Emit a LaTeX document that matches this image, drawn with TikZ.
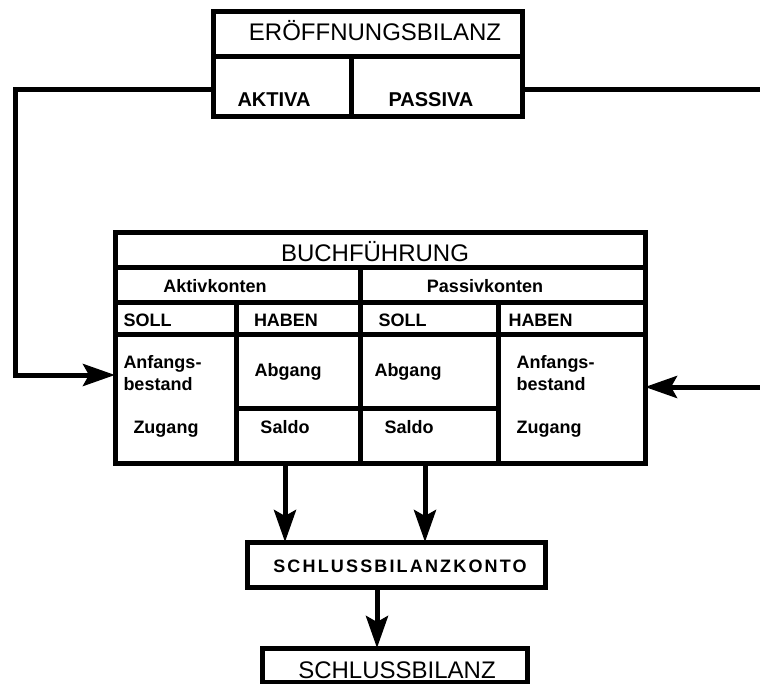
\documentclass[tikz,border=0pt]{standalone}
\usepackage{fontspec}
\setmainfont{Liberation Sans}
\usetikzlibrary{arrows.meta}
\begin{document}
\begin{tikzpicture}[x=1pt,y=-1pt,line width=5pt,
  box/.style={draw,line width=5pt,inner sep=0pt,outer sep=0pt},
  title/.style={font=\fontsize{24}{24}\selectfont,inner sep=0pt,anchor=base},
  lbl/.style={font=\bfseries\fontsize{18}{18}\selectfont,inner sep=0pt,anchor=base west},
  lblc/.style={lbl,anchor=base},
  arr/.style={-{Stealth[length=32pt,width=22pt,inset=6pt]},line width=5pt}]
\useasboundingbox (0,0) rectangle (760,684);
% boxes
\node[box,minimum width=309pt,minimum height=105pt] (eb) at (367.5,64.5) {};
\node[box,minimum width=530pt,minimum height=230pt] (bf) at (380,348) {};
\node[box,minimum width=298pt,minimum height=45pt] (sbk) at (396,564.5) {};
\node[box,minimum width=265pt,minimum height=34pt] (sb) at (394.5,665) {};
% dividers Eroeffnungsbilanz
\draw (213,57) -- (522,57);
\draw (351,57) -- (351,117);
% dividers Buchfuehrung
\draw (115,268) -- (645,268);
\draw (115,303) -- (645,303);
\draw (115,335) -- (645,335);
\draw (360,268) -- (360,463);
\draw (236,303) -- (236,463);
\draw (498,303) -- (498,463);
\draw (236,408) -- (498,408);
% texts
\node[title] (tEB) at (375,40.5) {ERÖFFNUNGSBILANZ};
\node[lblc,font=\bfseries\fontsize{20}{20}\selectfont] (tAK) at (274,107) {AKTIVA};
\node[lblc,font=\bfseries\fontsize{20}{20}\selectfont] (tPA) at (431,107) {PASSIVA};
\node[title] (tBF) at (375,262) {BUCHFÜHRUNG};
\node[lblc] (tAKK) at (215,293) {Aktivkonten};
\node[lblc] (tPAK) at (485,293) {Passivkonten};
\node[lbl] (s1) at (121,327) {SOLL};
\node[lblc] (h1) at (286,327) {HABEN};
\node[lbl] (s2) at (376,327) {SOLL};
\node[lbl] (h2) at (506,327) {HABEN};
\node[lbl] (a1) at (121,368) {Anfangs-};
\node[lbl] (b1) at (121,390) {bestand};
\node[lbl] (z1) at (131,433) {Zugang};
\node[lblc] (ab1) at (288,377) {Abgang};
\node[lblc] (sa1) at (285,433) {Saldo};
\node[lbl] (ab2) at (372,377) {Abgang};
\node[lbl] (sa2) at (382,433) {Saldo};
\node[lbl] (a2) at (514,368) {Anfangs-};
\node[lbl] (b2) at (514,390) {bestand};
\node[lbl] (z2) at (514,433) {Zugang};
\node[lblc,font=\addfontfeature{LetterSpace=12}\bfseries\fontsize{18}{18}\selectfont] (tSBK) at (400,572) {SCHLUSSBILANZKONTO};
\node[title] (tSB) at (397,678) {SCHLUSSBILANZ};
% connector coordinates
\coordinate (ebL) at (213,90);
\coordinate (ebR) at (522,90);
\coordinate (rEnd) at (760,90);
\coordinate (bfL) at (115,375);
\coordinate (rIn) at (760,387);
\coordinate (bfR) at (645,387);
\coordinate (d1) at (285,463);
\coordinate (d2) at (425,463);
\coordinate (d3) at (377,587);
% connectors
\draw[arr] (ebL) -- ++(-198,0) |- (bfL);
\draw (ebR) -- (rEnd);
\draw[arr] (rIn) -- (bfR);
\draw[arr] (d1) -- (d1 |- sbk.north);
\draw[arr] (d2) -- (d2 |- sbk.north);
\draw[arr] (d3) -- (d3 |- sb.north);
\end{tikzpicture}
\end{document}
